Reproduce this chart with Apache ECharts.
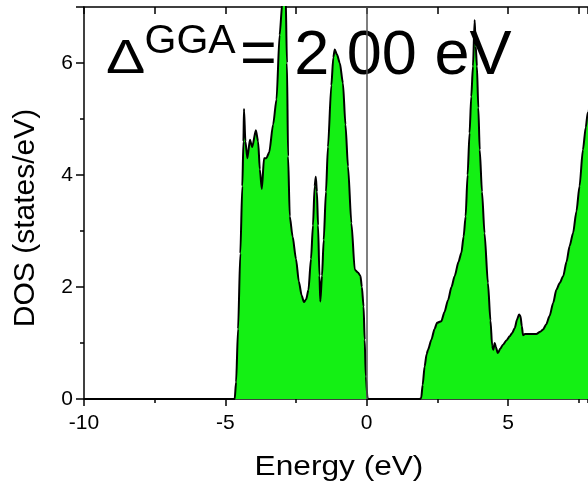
<!DOCTYPE html>
<html>
<head>
<meta charset="utf-8">
<script src="https://cdn.jsdelivr.net/npm/echarts@6/dist/echarts.min.js"></script>
<style>
  html, body { margin: 0; padding: 0; background: #fff; }
  #chart { width: 588px; height: 487px; }
</style>
</head>
<body>
<div id="chart"></div>
<script>
// Energy grid (eV) and total density of states (states/eV)
var energy = [
  -10, -4.75, -4.67, -4.62, -4.55, -4.47, -4.40, -4.36, -4.34, -4.29,
  -4.22, -4.13, -4.05, -3.92, -3.84, -3.78, -3.71, -3.63, -3.55, -3.45,
  -3.31, -3.19, -3.08, -2.98, -2.92, -2.87, -2.82, -2.78, -2.72, -2.62,
  -2.50, -2.40, -2.30, -2.22, -2.14, -2.06, -1.97, -1.90, -1.84, -1.80,
  -1.76, -1.72, -1.67, -1.64, -1.58, -1.52, -1.44, -1.37, -1.25, -1.18,
  -1.13, -1.05, -0.95, -0.84, -0.75, -0.66, -0.54, -0.42, -0.31, -0.22,
  -0.17, -0.11, -0.07, -0.03, 0.03, 0.05,
  1.88, 1.93, 1.98, 2.05, 2.12, 2.17, 2.29, 2.40, 2.49, 2.64,
  2.75, 2.88, 3.00, 3.11, 3.25, 3.35, 3.43, 3.50, 3.57, 3.64,
  3.70, 3.76, 3.82, 3.86, 3.90, 3.95, 4.00, 4.08, 4.17, 4.29,
  4.38, 4.44, 4.48, 4.53, 4.57, 4.64, 4.73, 4.82, 4.95, 5.06,
  5.15, 5.24, 5.32, 5.39, 5.44, 5.49, 5.53, 5.60, 5.71, 6.00,
  6.14, 6.24, 6.35, 6.47, 6.60, 6.71, 6.83, 6.95, 7.07, 7.18,
  7.30, 7.42, 7.53, 7.65, 7.75, 7.82, 7.95
];
var dos = [
  0, 0, 0, 0.3, 1.25, 2.6, 3.8, 4.6, 5.18, 4.6,
  4.3, 4.63, 4.5, 4.8, 4.6, 4.1, 3.75, 4.3, 4.3, 4.4,
  4.9, 5.35, 6.5, 7.1, 7.6, 7.3, 6.0, 4.33, 3.26, 2.9,
  2.5, 2.1, 1.85, 1.73, 1.78, 1.95, 2.5, 3.1, 3.8, 3.97,
  3.7, 3.1, 2.2, 1.74, 2.2, 2.84, 3.7, 4.5, 5.6, 6.1,
  6.24, 6.15, 6.0, 5.64, 4.9, 4.15, 3.14, 2.31, 2.26, 2.2,
  2.0, 1.65, 1.06, 0.4, 0.02, 0,
  0, 0.02, 0.25, 0.58, 0.8, 0.88, 1.06, 1.25, 1.36, 1.39,
  1.55, 1.77, 2.0, 2.19, 2.45, 2.61, 2.9, 3.26, 4.0, 4.75,
  5.4, 5.94, 6.77, 6.3, 5.94, 5.2, 4.45, 3.7, 2.96, 2.07,
  1.4, 0.95, 0.88, 1.0, 0.93, 0.82, 0.9, 0.97, 1.05, 1.12,
  1.18, 1.27, 1.42, 1.51, 1.48, 1.3, 1.14, 1.16, 1.16, 1.16,
  1.2, 1.24, 1.33, 1.48, 1.72, 1.95, 2.07, 2.19, 2.45, 2.73,
  2.96, 3.35, 3.8, 4.45, 4.85, 5.11, 5.6
];
var xTicks = [-10, -5, 0, 5];
var yTicks = [0, 2, 4, 6];
var xMax = 7.83;
var fermiLevel = 0;
var titleParts = ['\u0394', 'GGA', '= 2.00 eV'];
var xTitle = 'Energy (eV)';
var yTitle = 'DOS (states/eV)';

var FONT = '"Liberation Sans", Arial, Helvetica, sans-serif';
var points = energy.map(function (e, i) { return [e, dos[i]]; });
var black = { color: '#000', width: 1.5 };

var chart = echarts.init(document.getElementById('chart'), null, { renderer: 'canvas' });
chart.setOption({
  animation: false,
  backgroundColor: '#ffffff',
  grid: { left: 84, right: 0, top: 7, bottom: 88 },
  xAxis: [{
    // bottom axis: major ticks and labels
    type: 'value', position: 'bottom',
    min: xTicks[0], max: xMax, interval: 5,
    axisLine: { onZero: false, lineStyle: black },
    axisTick: { inside: false, length: 7, lineStyle: black },
    splitLine: { show: false },
    axisLabel: {
      margin: 14, color: '#000', fontSize: 21, fontFamily: FONT,
      showMaxLabel: false,
      formatter: function (v) { return xTicks.indexOf(v) >= 0 ? String(v) : ''; }
    }
  }, {
    // top frame with inward ticks
    type: 'value', position: 'top',
    min: xTicks[0], max: xMax, interval: 2.5,
    axisLine: { onZero: false, lineStyle: black },
    axisTick: { inside: true, length: 7, lineStyle: black },
    splitLine: { show: false },
    axisLabel: { show: false }
  }, {
    // bottom minor ticks every 2.5 eV
    type: 'value', position: 'bottom',
    min: xTicks[0], max: xMax, interval: 2.5,
    axisLine: { show: false, onZero: false },
    axisTick: { inside: false, length: 4, lineStyle: black },
    splitLine: { show: false },
    axisLabel: { show: false }
  }],
  yAxis: {
    type: 'value', min: 0, max: 7, interval: 2,
    axisLine: { show: true, onZero: false, lineStyle: black },
    axisTick: { show: true, inside: false, length: 8, lineStyle: black },
    minorTick: { show: true, splitNumber: 2, length: 4, lineStyle: black },
    splitLine: { show: false },
    axisLabel: {
      margin: 11, color: '#000', fontSize: 21, fontFamily: FONT,
      showMaxLabel: false,
      formatter: function (v) { return yTicks.indexOf(v) >= 0 ? String(v) : ''; }
    }
  },
  series: [{
    type: 'line',
    data: points,
    xAxisIndex: 0,
    symbol: 'none',
    smooth: 0.25,
    smoothMonotone: 'x',
    clip: true,
    lineStyle: { color: '#000', width: 2 },
    areaStyle: { color: '#14f014', opacity: 1 },
    z: 3,
    markLine: {
      silent: true,
      symbol: 'none',
      label: { show: false },
      lineStyle: { color: '#555', width: 1.5, type: 'solid' },
      data: [{ xAxis: fermiLevel }]
    }
  }],
  graphic: [
    { type: 'text', z: -1, x: 106, y: 59.5, scaleX: 1.2,
      style: { text: titleParts[0], font: '49px ' + FONT, fill: '#000', align: 'left', verticalAlign: 'middle' } },
    { type: 'text', z: -1, x: 144.5, y: 42,
      style: { text: titleParts[1], font: '41px ' + FONT, fill: '#000', align: 'left', verticalAlign: 'middle' } },
    { type: 'text', z: -1, x: 240, y: 56.3,
      style: { text: titleParts[2], font: '63px ' + FONT, fill: '#000', align: 'left', verticalAlign: 'middle' } },
    { type: 'text', x: 339, y: 467, scaleX: 1.13,
      style: { text: xTitle, font: '28px ' + FONT, fill: '#000', align: 'center', verticalAlign: 'middle' } },
    { type: 'text', x: 26, y: 218, rotation: Math.PI / 2,
      style: { text: yTitle, font: '30px ' + FONT, fill: '#000', align: 'center', verticalAlign: 'middle' } }
  ]
});
</script>
</body>
</html>
